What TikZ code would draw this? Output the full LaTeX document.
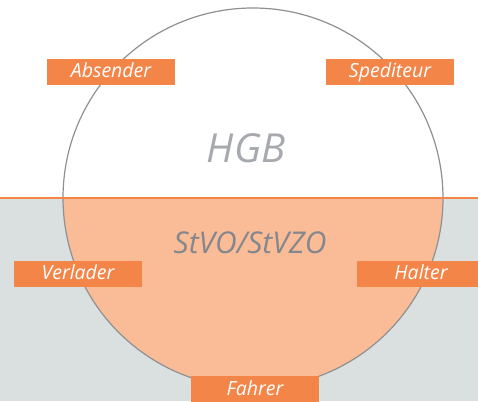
\documentclass[tikz,border=0pt]{standalone}
\usepackage{fontspec}
\setmainfont{Open Sans}
\definecolor{boxorange}{HTML}{F48548}
\definecolor{lightorange}{HTML}{F9BC96}
\definecolor{ground}{HTML}{DADFE0}
\definecolor{ringgray}{HTML}{8E9094}
\definecolor{hgbgray}{HTML}{A6A9AE}
\definecolor{stvogray}{HTML}{84878D}
\begin{document}
\begin{tikzpicture}[x=1pt,y=1pt,
  labelbox/.style={fill=boxorange, text=white, font=\itshape\fontsize{19.5}{22}\selectfont,
    minimum width=128pt, minimum height=26pt, inner sep=0pt, text height=14pt, text depth=2pt},
  bigtext/.style={font=\itshape\fontsize{40}{44}\selectfont, text=hgbgray, anchor=base},
  midtext/.style={font=\itshape\fontsize{30}{34}\selectfont, text=stvogray, anchor=base}]
\useasboundingbox (0,0) rectangle (478,401);
\fill[white] (0,0) rectangle (478,401);
\fill[ground] (0,0) rectangle (478,203);
\coordinate (c) at (253,203);
\begin{scope}
  \clip (0,0) rectangle (478,203);
  \fill[lightorange] (c) circle[radius=190];
\end{scope}
\draw[ringgray, line width=1.2pt] (c) circle[radius=190];
\draw[boxorange, line width=2.2pt] (0,203) -- (478,203);
\node[bigtext] (hgb) at (246,238) {HGB};
\node[midtext] (stvo) at (250,147) {StVO/StVZO};
\node[labelbox] (absender) at (111,329) {Absender};
\node[labelbox] (spediteur) at (390,329) {Spediteur};
\node[labelbox] (verlader) at (78,127) {Verlader};
\node[labelbox] (halter) at (421,127) {Halter};
\node[labelbox] (fahrer) at (255,12) {Fahrer};
\end{tikzpicture}
\end{document}
